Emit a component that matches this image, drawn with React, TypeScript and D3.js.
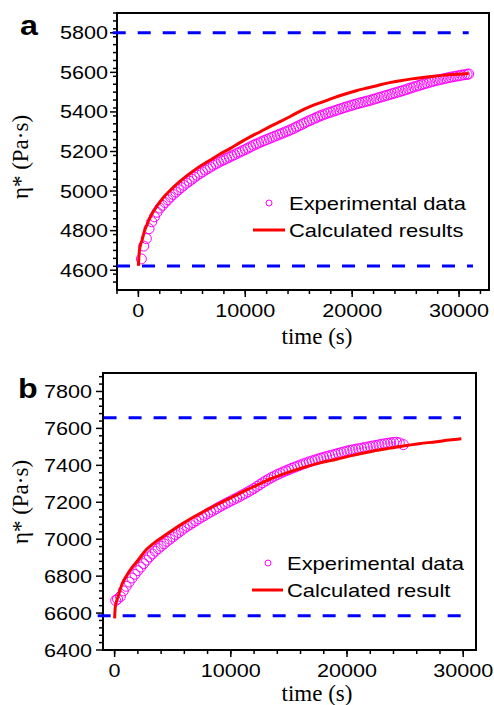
import * as d3 from 'd3';

// panel a: time (s), eta* (Pa·s)
const expA: [number, number][] = [
  [280, 4657], [500, 4722], [750, 4760], [1000, 4810], [1250, 4845], [1500, 4870], [1750, 4893],
  [2000, 4914], [2250, 4928], [2500, 4942], [2750, 4956], [3000, 4970], [3250, 4983], [3500, 4995],
  [3750, 5007], [4000, 5018], [4250, 5029], [4500, 5040], [4750, 5050], [5000, 5060], [5250, 5070],
  [5500, 5080], [5750, 5089], [6000, 5097], [6250, 5106], [6500, 5114], [6750, 5122], [7000, 5130],
  [7250, 5138], [7500, 5145], [7750, 5152], [8000, 5158], [8250, 5165], [8500, 5171], [8750, 5178],
  [9000, 5184], [9250, 5191], [9500, 5197], [9750, 5204], [10000, 5210], [10250, 5217], [10500, 5224],
  [10750, 5231], [11000, 5237], [11250, 5243], [11500, 5249], [11750, 5255], [12000, 5260], [12250, 5266],
  [12500, 5271], [12750, 5277], [13000, 5282], [13250, 5288], [13500, 5293], [13750, 5299], [14000, 5304],
  [14250, 5310], [14500, 5316], [14750, 5323], [15000, 5330], [15250, 5336], [15500, 5343], [15750, 5350],
  [16000, 5356], [16250, 5362], [16500, 5368], [16750, 5374], [17000, 5380], [17250, 5385], [17500, 5390],
  [17750, 5395], [18000, 5399], [18250, 5404], [18500, 5408], [18750, 5413], [19000, 5417], [19250, 5422],
  [19500, 5426], [19750, 5430], [20000, 5434], [20250, 5438], [20500, 5442], [20750, 5446], [21000, 5449],
  [21250, 5453], [21500, 5456], [21750, 5460], [22000, 5464], [22250, 5468], [22500, 5472], [22750, 5476],
  [23000, 5480], [23250, 5484], [23500, 5488], [23750, 5492], [24000, 5496], [24250, 5500], [24500, 5504],
  [24750, 5508], [25000, 5512], [25250, 5517], [25500, 5521], [25750, 5526], [26000, 5530], [26250, 5534],
  [26500, 5538], [26750, 5542], [27000, 5546], [27250, 5550], [27500, 5554], [27750, 5558], [28000, 5561],
  [28250, 5564], [28500, 5567], [28750, 5570], [29000, 5573], [29250, 5576], [29500, 5578], [29750, 5581],
  [30000, 5583], [30250, 5586], [30500, 5588], [30750, 5590], [30900, 5592],
];

const calcA: [number, number][] = [
  [0, 4622], [40, 4660], [100, 4700], [200, 4728], [350, 4752], [550, 4795], [800, 4830], [1200, 4878],
  [1750, 4925], [2300, 4965], [3000, 5005], [3800, 5045], [4550, 5078], [5500, 5116], [6700, 5156],
  [7600, 5186], [8600, 5216], [9500, 5245], [10500, 5275], [11400, 5300], [12300, 5326], [13300, 5352],
  [14200, 5377], [15100, 5403], [16000, 5425], [17000, 5446], [18200, 5470], [19200, 5488], [20300, 5506],
  [21400, 5521], [22400, 5534], [23500, 5548], [24500, 5558], [25600, 5567], [26600, 5574], [27600, 5580],
  [28700, 5586], [29800, 5590], [30900, 5594],
];

const upperA: [number, number][] = [[-2400, 5800], [30900, 5800]];
const lowerA: [number, number][] = [[-2000, 4621], [31300, 4621]];

// panel b
const expB: [number, number][] = [
  [90, 6668], [250, 6676], [500, 6690], [750, 6720], [1000, 6745], [1250, 6768], [1500, 6790],
  [1750, 6810], [2000, 6830], [2250, 6849], [2500, 6868], [2750, 6887], [3000, 6905], [3250, 6920],
  [3500, 6935], [3750, 6949], [4000, 6962], [4250, 6975], [4500, 6988], [4750, 7000], [5000, 7012],
  [5250, 7024], [5500, 7036], [5750, 7048], [6000, 7060], [6250, 7070], [6500, 7080], [6750, 7090],
  [7000, 7100], [7250, 7110], [7500, 7120], [7750, 7129], [8000, 7138], [8250, 7147], [8500, 7156],
  [8750, 7165], [9000, 7174], [9250, 7183], [9500, 7191], [9750, 7199], [10000, 7207], [10250, 7215],
  [10500, 7223], [10750, 7231], [11000, 7240], [11250, 7248], [11500, 7257], [11750, 7266], [12000, 7275],
  [12250, 7286], [12500, 7296], [12750, 7306], [13000, 7316], [13250, 7325], [13500, 7334], [13750, 7342],
  [14000, 7350], [14250, 7357], [14500, 7364], [14750, 7371], [15000, 7377], [15250, 7384], [15500, 7390],
  [15750, 7396], [16000, 7402], [16250, 7408], [16500, 7413], [16750, 7419], [17000, 7424], [17250, 7429],
  [17500, 7434], [17750, 7439], [18000, 7443], [18250, 7448], [18500, 7452], [18750, 7456], [19000, 7460],
  [19250, 7465], [19500, 7469], [19750, 7473], [20000, 7477], [20250, 7481], [20500, 7484], [20750, 7487],
  [21000, 7490], [21250, 7493], [21500, 7496], [21750, 7499], [22000, 7502], [22250, 7505], [22500, 7508],
  [22750, 7511], [23000, 7514], [23250, 7517], [23500, 7519], [23750, 7522], [24000, 7524], [24250, 7525],
  [24500, 7522], [24850, 7512],
];

const calcB: [number, number][] = [
  [0, 6571], [20, 6600], [60, 6635], [150, 6660], [300, 6690], [660, 6760], [1000, 6800], [1520, 6849],
  [2000, 6885], [2660, 6939], [3300, 6975], [4090, 7011], [5000, 7050], [5810, 7083], [6800, 7120],
  [7810, 7155], [8800, 7188], [9810, 7218], [10800, 7250], [11820, 7280], [12600, 7303], [13390, 7326],
  [14100, 7343], [15000, 7363], [16250, 7388], [17600, 7412], [19110, 7433], [20500, 7454], [21970, 7474],
  [23400, 7490], [24830, 7505], [26200, 7517], [27700, 7528], [28800, 7537], [29840, 7544],
];

const upperB: [number, number][] = [[-950, 7658], [29810, 7658]];
const lowerB: [number, number][] = [[-1460, 6586], [29840, 6586]];

const xTicks = [0, 10000, 20000, 30000];
const yTicksA = [4600, 4800, 5000, 5200, 5400, 5600, 5800];
const yTicksB = [6400, 6600, 6800, 7000, 7200, 7400, 7600, 7800];

const SANS = '"Liberation Sans", Arial, sans-serif';
const SERIF = '"Liberation Serif", "Times New Roman", serif';
const SX = 1.2;

type Pt = [number, number];

interface PanelCfg {
  letter: string;
  box: { l: number; r: number; t: number; b: number };
  xDomain: [number, number];
  yDomain: [number, number];
  yTicks: number[];
  xMinorFrom: number;
  exp: Pt[];
  calc: Pt[];
  upper: Pt[];
  lower: Pt[];
  calcLabel: string;
  legend: { cx: number; cy: number; tx: number; lx0: number; lx1: number; ly: number };
  yLabelCy: number;
  yLabelRight: number;
  xLabelBase: number;
  xTickBase: number;
  letterPos: [number, number];
}

function Panel({ cfg }: { cfg: PanelCfg }) {
  const { box } = cfg;
  const x = d3.scaleLinear().domain(cfg.xDomain).range([box.l, box.r]);
  const y = d3.scaleLinear().domain(cfg.yDomain).range([box.b, box.t]);
  const line = d3.line<Pt>().x(d => x(d[0])).y(d => y(d[1])).curve(d3.curveMonotoneX);
  const straight = d3.line<Pt>().x(d => x(d[0])).y(d => y(d[1]));

  const xMinor = d3.range(cfg.xMinorFrom, cfg.xDomain[1] + 1, 2000);
  const yMinor = d3.range(cfg.yDomain[0] + 40, cfg.yDomain[1] + 1, 40)
    .filter(v => v % 200 !== 0);
  const lg = cfg.legend;

  return (
    <g>
      <text transform={`translate(${cfg.letterPos[0]},${cfg.letterPos[1]}) scale(1.15,1)`}
        fontFamily={SANS} fontWeight="bold" fontSize={28}>{cfg.letter}</text>

      {/* box */}
      <rect x={box.l} y={box.t} width={box.r - box.l} height={box.b - box.t}
        fill="none" stroke="#000" strokeWidth={2} />

      {/* y ticks */}
      {yMinor.map(v => (
        <line key={'ym' + v} x1={box.l} x2={box.l - 4} y1={y(v)} y2={y(v)} stroke="#000" strokeWidth={1.5} />
      ))}
      {cfg.yTicks.map(v => (
        <g key={'y' + v}>
          <line x1={box.l} x2={box.l - 7} y1={y(v)} y2={y(v)} stroke="#000" strokeWidth={1.5} />
          <text transform={`translate(${cfg.yLabelRight},${y(v) + 6.5}) scale(${SX},1)`}
            textAnchor="end" fontFamily={SANS} fontSize={18}>{v}</text>
        </g>
      ))}

      {/* x ticks */}
      {xMinor.map(v => (
        <line key={'xm' + v} x1={x(v)} x2={x(v)} y1={box.b} y2={box.b + 4} stroke="#000" strokeWidth={1.5} />
      ))}
      {xTicks.map(v => (
        <g key={'x' + v}>
          <line x1={x(v)} x2={x(v)} y1={box.b} y2={box.b + 7} stroke="#000" strokeWidth={1.5} />
          <text transform={`translate(${x(v)},${cfg.xTickBase}) scale(${SX},1)`}
            textAnchor="middle" fontFamily={SANS} fontSize={18}>{v}</text>
        </g>
      ))}

      <text x={317} y={cfg.xLabelBase} textAnchor="middle" fontFamily={SERIF} fontSize={23}>time (s)</text>
      <text transform={`translate(28,${cfg.yLabelCy}) rotate(-90)`} textAnchor="middle"
        fontFamily={SERIF} fontSize={23}>η* (Pa·s)</text>

      {/* reference levels */}
      <path d={straight(cfg.upper) || ''} stroke="#0000ff" strokeWidth={3} strokeDasharray="13 12" fill="none" />
      <path d={straight(cfg.lower) || ''} stroke="#0000ff" strokeWidth={3} strokeDasharray="13 12" fill="none" />

      {/* experimental data */}
      {cfg.exp.map((d, i) => (
        <circle key={'e' + i} cx={x(d[0])} cy={y(d[1])} r={5} fill="none" stroke="#ff00ff" strokeWidth={1} />
      ))}
      {/* calculated */}
      <path d={line(cfg.calc) || ''} stroke="#ff0000" strokeWidth={3} fill="none" />

      {/* legend */}
      <circle cx={lg.cx} cy={lg.cy} r={3} fill="none" stroke="#ff00ff" strokeWidth={1} />
      <text transform={`translate(${lg.tx},${lg.cy + 6.5}) scale(1.22,1)`} fontFamily={SANS} fontSize={18}>Experimental data</text>
      <line x1={lg.lx0} x2={lg.lx1} y1={lg.ly} y2={lg.ly} stroke="#ff0000" strokeWidth={3} />
      <text transform={`translate(${lg.tx},${lg.ly + 6.5}) scale(1.22,1)`} fontFamily={SANS} fontSize={18}>{cfg.calcLabel}</text>
    </g>
  );
}

const panelA: PanelCfg = {
  letter: 'a',
  box: { l: 117, r: 489, t: 13, b: 290 },
  xDomain: [-2000, 32800],
  yDomain: [4500, 5900],
  yTicks: yTicksA,
  xMinorFrom: -2000,
  exp: expA,
  calc: calcA,
  upper: upperA,
  lower: lowerA,
  calcLabel: 'Calculated results',
  legend: { cx: 269, cy: 203, tx: 289, lx0: 253, lx1: 285, ly: 230 },
  yLabelCy: 157,
  yLabelRight: 108,
  xLabelBase: 344,
  xTickBase: 317,
  letterPos: [20, 35],
};

const panelB: PanelCfg = {
  letter: 'b',
  box: { l: 103, r: 476, t: 373, b: 650 },
  xDomain: [-1000, 31100],
  yDomain: [6400, 7900],
  yTicks: yTicksB,
  xMinorFrom: 0,
  exp: expB,
  calc: calcB,
  upper: upperB,
  lower: lowerB,
  calcLabel: 'Calculated result',
  legend: { cx: 268, cy: 563, tx: 287, lx0: 252, lx1: 283, ly: 590 },
  yLabelCy: 502,
  yLabelRight: 92,
  xLabelBase: 701,
  xTickBase: 677,
  letterPos: [18, 398],
};

export default function App() {
  return (
    <svg width={494} height={705} style={{ position: 'absolute', left: 0, top: 0, background: '#fff' }}>
      <Panel cfg={panelA} />
      <Panel cfg={panelB} />
    </svg>
  );
}
